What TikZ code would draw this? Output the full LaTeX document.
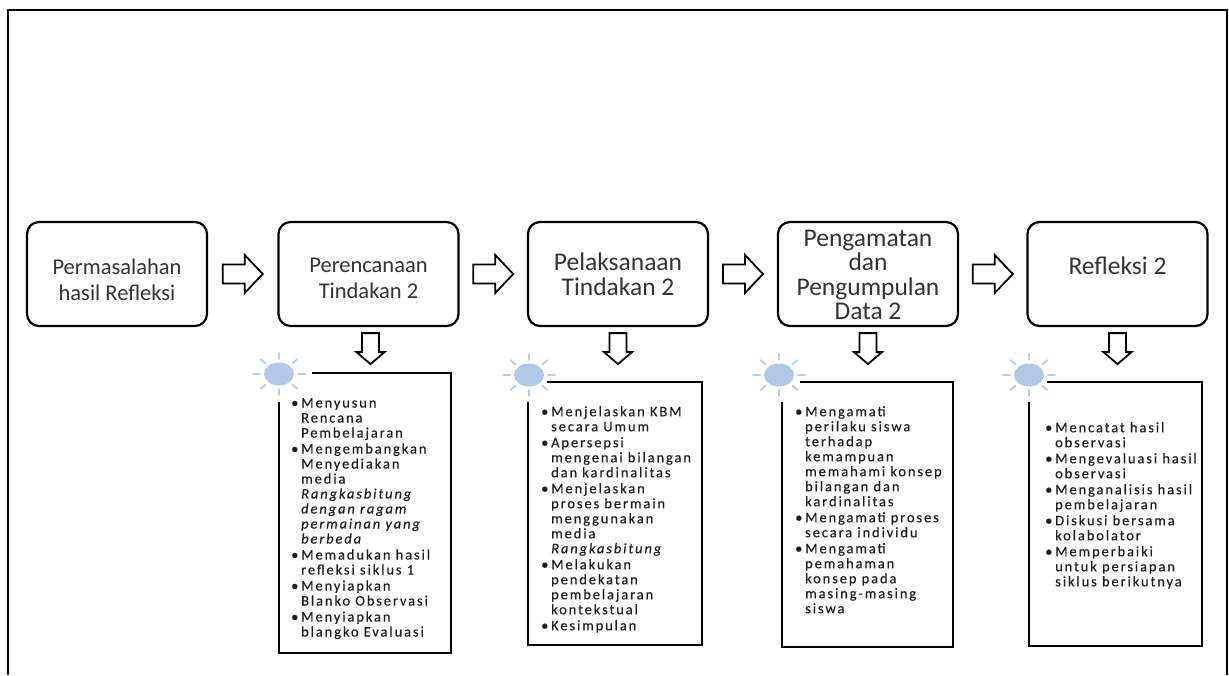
\documentclass[tikz,border=0pt]{standalone}
\usepackage{fontspec}
\setmainfont{Carlito}
\newfontfamily\listfont[LetterSpace=13,WordSpace=1.0,FakeBold=0.35]{Carlito}
\usetikzlibrary{calc}
\definecolor{txt}{HTML}{1E1E1E}
\definecolor{toptxt}{HTML}{333333}
\definecolor{sunfill}{HTML}{B4C7E7}
\definecolor{raycol}{HTML}{BCCBE4}
\newcommand\bl{\makebox[10pt][l]{\textbullet}}
\newcommand\ind{\hspace*{10pt}}
\newcommand\harrowat[1]{\draw[blockarrow] ($(#1)+(-20,-9.5)$) -- ++(22,0) -- ++(0,-9.5) -- ++(18,19) -- ++(-18,19) -- ++(0,-9.5) -- ++(-22,0) -- cycle;}
\newcommand\darrowat[1]{\draw[blockarrow] ($(#1)+(-8.5,0)$) -- ++(17,0) -- ++(0,19) -- ++(5.5,0) -- ++(-14,12) -- ++(-14,-12) -- ++(5.5,0) -- cycle;}
\tikzset{
  topbox/.style={draw, line width=2.2pt, rounded corners=12pt, minimum width=180pt, minimum height=104pt},
  toptext/.style={align=center, text=toptxt, inner sep=0pt},
  smalltop/.style={font=\fontsize{22.5}{26}\selectfont},
  bigtop/.style={font=\fontsize{25.5}{24.5}\selectfont},
  blockarrow/.style={draw, fill=white, line width=1.8pt, line join=miter},
  listbox/.style={draw, line width=2.6pt},
  listnode/.style={font=\listfont\fontsize{14.5}{15}\selectfont, align=left, inner sep=0pt, text=txt},
  frame/.style={draw, line width=2.4pt},
  sun/.pic={
    \fill[sunfill] (0,0) ellipse [x radius=15pt, y radius=11.5pt];
    \foreach \a in {0,45,...,315}
      \draw[raycol, line width=1.8pt, line cap=round] ({19*cos(\a)},{15*sin(\a)}) -- ({26*cos(\a)},{21*sin(\a)});
  }
}
\begin{document}
\begin{tikzpicture}[x=1pt,y=-1pt]
\useasboundingbox (0,0) rectangle (1229,675);
\draw[frame] (8,675) -- (8,10) -- (1227,10) -- (1227,675);

% top boxes
\node[topbox] (b1) at (117,274) {};
\node[topbox] (b2) at (368.5,274) {};
\node[topbox] (b3) at (618,274) {};
\node[topbox] (b4) at (868,274) {};
\node[topbox] (b5) at (1117.5,274) {};
\node[toptext, smalltop] (t1) at ($(b1.center)+(0,6)$) {Permasalahan\\hasil Refleksi};
\node[toptext, smalltop] (t2) at ($(b2.center)+(0,4)$) {Perencanaan\\Tindakan 2};
\node[toptext, bigtop] (t3) at ($(b3.center)+(0,0)$) {Pelaksanaan\\Tindakan 2};
\node[toptext, bigtop] (t4) at ($(b4.center)+(0,1)$) {Pengamatan\\dan\\Pengumpulan\\Data 2};
\node[toptext, bigtop] (t5) at ($(b5.center)+(0,-8)$) {Refleksi 2};

% horizontal block arrows
\coordinate (a12) at ($(b1.east)!0.5!(b2.west)$);
\coordinate (a23) at ($(b2.east)!0.5!(b3.west)$);
\coordinate (a34) at ($(b3.east)!0.5!(b4.west)$);
\coordinate (a45) at ($(b4.east)!0.5!(b5.west)$);
\harrowat{a12}\harrowat{a23}\harrowat{a34}\harrowat{a45}

% down block arrows
\coordinate (d2) at ($(b2.south)+(2,6)$);
\coordinate (d3) at ($(b3.south)+(0,6)$);
\coordinate (d4) at ($(b4.south)+(0,6)$);
\coordinate (d5) at ($(b5.south)+(0,6)$);
\darrowat{d2}\darrowat{d3}\darrowat{d4}\darrowat{d5}

% list boxes
\draw[listbox] (312,373) -- (451,373) -- (451,653) -- (279,653) -- (279,402);
\draw[listbox] (547,382) -- (702,382) -- (702,645) -- (528,645) -- (528,402);
\draw[listbox] (800,382) -- (953,382) -- (953,647) -- (782,647) -- (782,402);
\draw[listbox] (1047,382) -- (1202,382) -- (1202,646) -- (1029,646) -- (1029,402);

% suns
\pic (s2) at (279,374) {sun};
\pic (s3) at (529,375) {sun};
\pic (s4) at (779,375) {sun};
\pic (s5) at (1029,375) {sun};

% list texts
\node[listnode, anchor=north west] (l2) at (291,398) {%
\bl Menyusun\\ \ind Rencana\\ \ind Pembelajaran\\[1pt]
\bl Mengembangkan\\ \ind Menyediakan\\ \ind media\\ \ind \textit{Rangkasbitung}\\ \ind \textit{dengan ragam}\\ \ind \textit{permainan yang}\\ \ind \textit{berbeda}\\[1pt]
\bl Memadukan hasil\\ \ind refleksi siklus 1\\[1pt]
\bl Menyiapkan\\ \ind Blanko Observasi\\[1pt]
\bl Menyiapkan\\ \ind blangko Evaluasi};

\node[listnode, anchor=north west] (l3) at (541,406) {%
\bl Menjelaskan KBM\\ \ind secara Umum\\[1pt]
\bl Apersepsi\\ \ind mengenai bilangan\\ \ind dan kardinalitas\\[1pt]
\bl Menjelaskan\\ \ind proses bermain\\ \ind menggunakan\\ \ind media\\ \ind \textit{Rangkasbitung}\\[1pt]
\bl Melakukan\\ \ind pendekatan\\ \ind pembelajaran\\ \ind kontekstual\\[1pt]
\bl Kesimpulan};

\node[listnode, anchor=north west] (l4) at (795,406) {%
\bl Mengamati\\ \ind perilaku siswa\\ \ind terhadap\\ \ind kemampuan\\ \ind memahami konsep\\ \ind bilangan dan\\ \ind kardinalitas\\[1pt]
\bl Mengamati proses\\ \ind secara individu\\[1pt]
\bl Mengamati\\ \ind pemahaman\\ \ind konsep pada\\ \ind masing-masing\\ \ind siswa};

\node[listnode, anchor=north west] (l5) at (1045,422) {%
\bl Mencatat hasil\\ \ind observasi\\[1pt]
\bl Mengevaluasi hasil\\ \ind observasi\\[1pt]
\bl Menganalisis hasil\\ \ind pembelajaran\\[1pt]
\bl Diskusi bersama\\ \ind kolabolator\\[1pt]
\bl Memperbaiki\\ \ind untuk persiapan\\ \ind siklus berikutnya};
\end{tikzpicture}
\end{document}
